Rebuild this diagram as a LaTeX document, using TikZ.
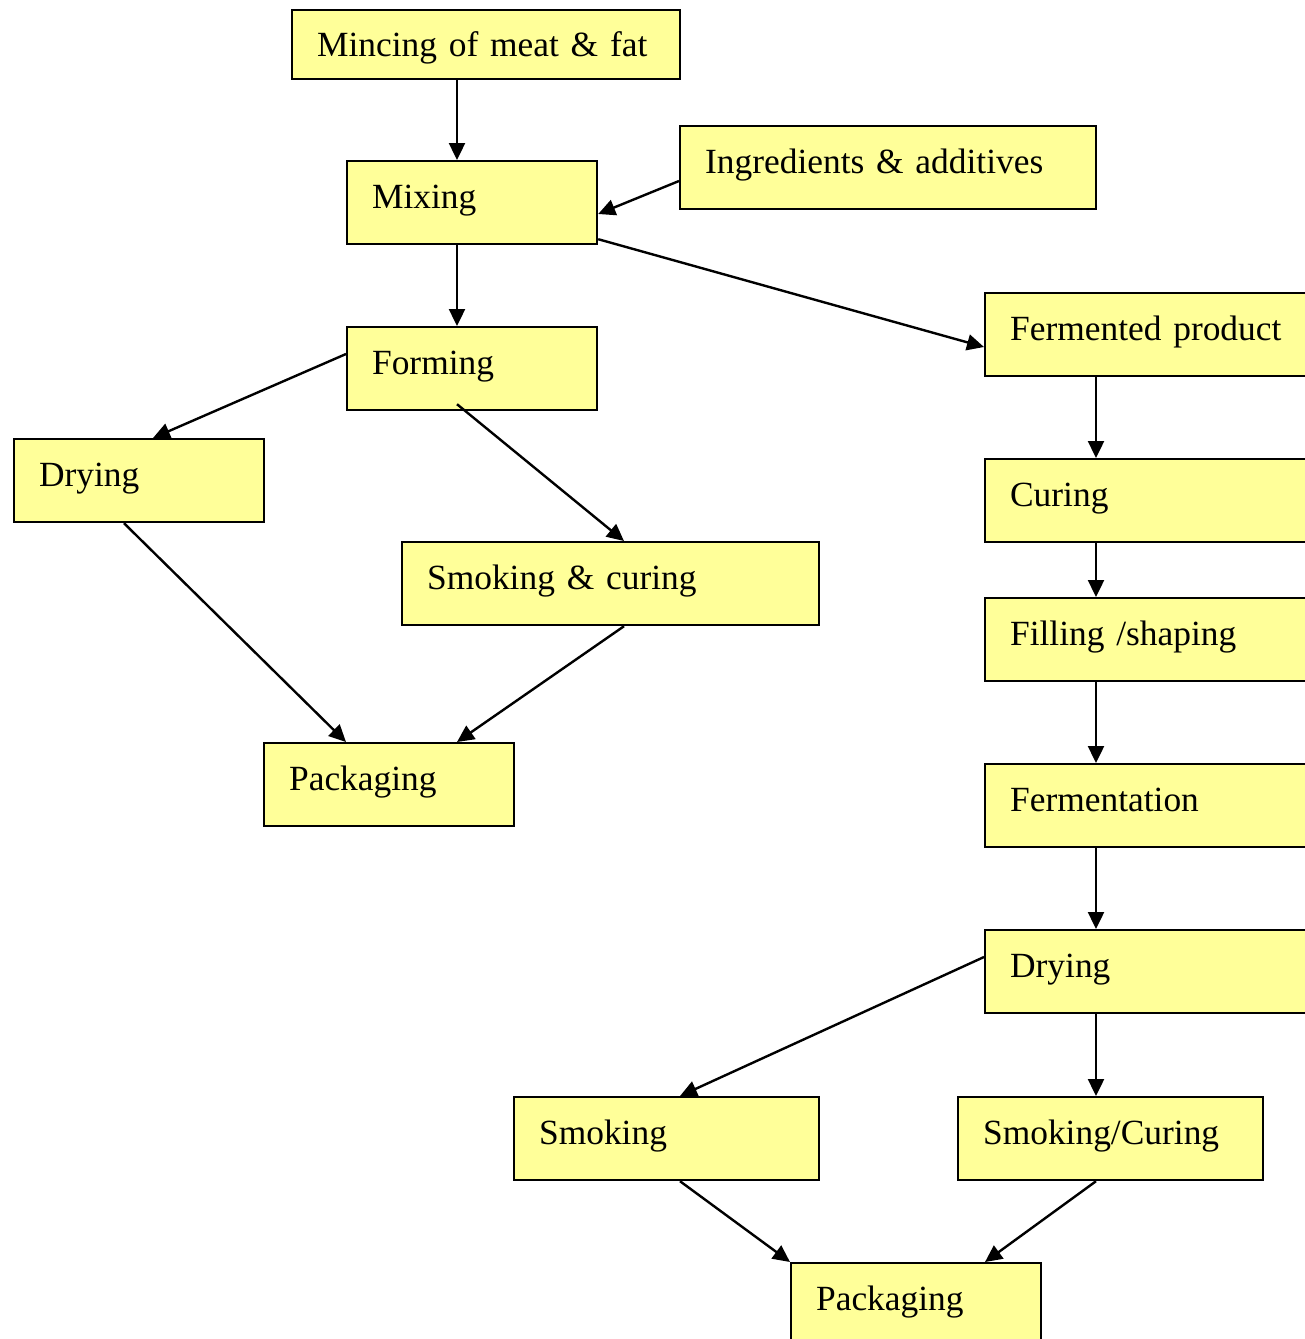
\documentclass[tikz,border=0pt]{standalone}
\usepackage{fontspec}
\setmainfont{Liberation Serif}
\usepackage{tikz}
\usetikzlibrary{arrows.meta}
\definecolor{boxfill}{RGB}{255,255,153}

\begin{document}
\begin{tikzpicture}[x=0.5pt, y=-0.5pt,
    box/.style={draw, fill=boxfill, line width=1.1pt, anchor=north west,
      align=left, inner xsep=12.5pt, inner ysep=0pt, minimum height=41.5pt,
      text height=12pt, text depth=6.5pt, text width=#1,
      font=\fontsize{17.7}{21}\selectfont},
    box/.default=100pt,
    arr/.style={-{Triangle[length=8.5pt,width=8pt]}, line width=1.2pt}]

  \useasboundingbox (0,0) rectangle (1305,1339);
  \clip (0,0) rectangle (1305,1339);

  % left branch
  \node[box=169pt, minimum height=34.5pt, text depth=0pt] (mince) at (291,9) {Mincing of meat \& fat};
  \node[box] (mix) at (346,160) {Mixing};
  \node[box=183pt] (ingr) at (679,125) {Ingredients \& additives};
  \node[box] (form) at (346,326) {Forming};
  \node[box] (dryl) at (13,438) {Drying};
  \node[box=183.5pt] (smcu) at (401,541) {Smoking \& curing};
  \node[box] (packl) at (263,742) {Packaging};

  % right branch
  \node[box=183pt] (ferm) at (984,292) {Fermented product};
  \node[box=183pt] (cure) at (984,458) {Curing};
  \node[box=183pt] (fill) at (984,597) {Filling /shaping};
  \node[box=183pt] (fermn) at (984,763) {Fermentation};
  \node[box=183pt] (dryr) at (984,929) {Drying};
  \node[box=127.5pt] (smok) at (513,1096) {Smoking};
  \node[box=127.5pt] (smcr) at (957,1096) {Smoking/Curing};
  \node[box] (packb) at (790,1262) {Packaging};

  \draw[arr] ([xshift=83pt]mince.south west) -- ([xshift=55.5pt]mix.north west);
  \draw[arr] ([yshift=-28pt]ingr.north west) -- ([yshift=-27pt]mix.north east);
  \draw[arr] ([xshift=55.5pt]mix.south west) -- ([xshift=55.5pt]form.north west);
  \draw[arr] ([yshift=3pt]mix.south east) -- ([yshift=-27.5pt]ferm.north west);

  \draw[arr] ([yshift=-14pt]form.north west) -- ([xshift=70pt]dryl.north west);
  \draw[arr] ([xshift=55.5pt,yshift=3.5pt]form.south west) -- ([xshift=111.5pt]smcu.north west);
  \draw[arr] ([xshift=55.5pt]dryl.south west) -- ([xshift=41.5pt]packl.north west);
  \draw[arr] ([xshift=111.5pt]smcu.south west) -- ([xshift=97pt]packl.north west);

  \draw[arr] ([xshift=56pt]ferm.south west) -- ([xshift=56pt]cure.north west);
  \draw[arr] ([xshift=56pt]cure.south west) -- ([xshift=56pt]fill.north west);
  \draw[arr] ([xshift=56pt]fill.south west) -- ([xshift=56pt]fermn.north west);
  \draw[arr] ([xshift=56pt]fermn.south west) -- ([xshift=56pt]dryr.north west);
  \draw[arr] ([yshift=-14pt]dryr.north west) -- ([xshift=83.5pt]smok.north west);
  \draw[arr] ([xshift=56pt]dryr.south west) -- ([xshift=69.5pt]smcr.north west);

  \draw[arr] ([xshift=83.5pt]smok.south west) -- (packb.north west);
  \draw[arr] ([xshift=69.5pt]smcr.south west) -- ([xshift=97.5pt]packb.north west);

\end{tikzpicture}
\end{document}
